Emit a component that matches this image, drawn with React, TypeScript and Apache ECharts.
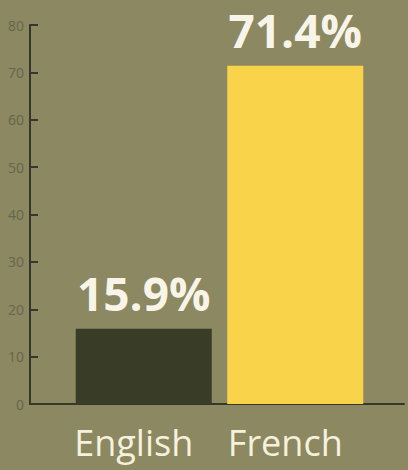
import React, { useEffect, useRef } from "react";
import * as echarts from "echarts";

const categories = ["English", "French"];
const values = [15.9, 71.4];
const barColors = ["#393d27", "#f9d44b"];
const yTicks = [0, 10, 20, 30, 40, 50, 60, 70, 80];

export default function App() {
  const ref = useRef<HTMLDivElement>(null);
  useEffect(() => {
    if (!ref.current) return;
    const chart = echarts.init(ref.current, null, { renderer: "svg" });
    const yMin = yTicks[0];
    const yMax = yTicks[yTicks.length - 1];
    const yInterval = yTicks[1] - yTicks[0];
    chart.setOption({
      animation: false,
      backgroundColor: "#8b8862",
      grid: [
        { left: 30, right: 4, top: 25, bottom: 66 },
        { left: 68, right: 37, top: 25, bottom: 66 },
      ],
      xAxis: [
        {
          gridIndex: 0,
          type: "category",
          data: [""],
          axisLine: { lineStyle: { color: "#36372a", width: 2 } },
          axisTick: { show: false },
          axisLabel: { show: false },
        },
        {
          gridIndex: 1,
          type: "category",
          data: categories,
          axisLine: { show: false },
          axisTick: { show: false },
          axisLabel: {
            interval: 0,
            color: "#f6f1dc",
            fontSize: 36,
            fontFamily: "'Open Sans', sans-serif",
            margin: 20,
            padding: [0, 20, 0, 0],
          },
        },
      ],
      yAxis: [
        {
          gridIndex: 0,
          type: "value",
          min: yMin,
          max: yMax,
          interval: yInterval,
          axisLine: { show: true, lineStyle: { color: "#36372a", width: 2 } },
          axisTick: { show: true, inside: true, length: 8, lineStyle: { color: "#36372a", width: 2 } },
          axisLabel: { color: "#67654b", fontSize: 14, margin: 6, fontFamily: "'Open Sans', sans-serif" },
          splitLine: { show: false },
        },
        {
          gridIndex: 1,
          type: "value",
          min: yMin,
          max: yMax,
          interval: yInterval,
          show: false,
        },
      ],
      series: [
        {
          type: "bar",
          xAxisIndex: 1,
          yAxisIndex: 1,
          barWidth: 136,
          data: values.map((v, i) => ({ value: v, itemStyle: { color: barColors[i] } })),
          label: {
            show: true,
            position: "top",
            distance: 16,
            lineHeight: 40,
            formatter: (p: any) => p.value.toFixed(1) + "%",
            color: "#f8f5e8",
            fontSize: 46,
            fontWeight: "bold",
            fontFamily: "'Open Sans', sans-serif",
          },
        },
      ],
    });
    return () => chart.dispose();
  }, []);
  return (
    <div
      ref={ref}
      style={{ position: "fixed", left: 0, top: 0, width: 408, height: 470, background: "#8b8862" }}
    />
  );
}
